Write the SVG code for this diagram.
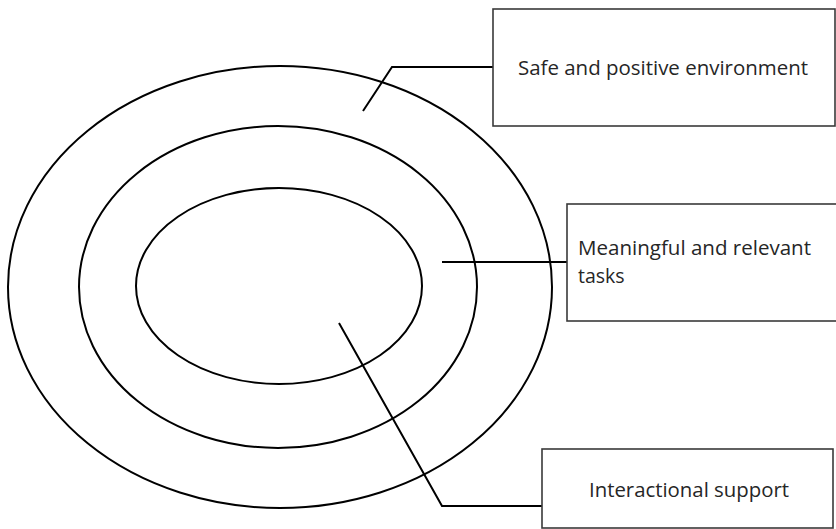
<svg xmlns="http://www.w3.org/2000/svg" width="836" height="529" viewBox="0 0 836 529">
<style>
.ring{fill:none;stroke:#000;stroke-width:2}
.box{fill:#fff;stroke:#3a3a3a;stroke-width:1.6}
.lead{fill:none;stroke:#000;stroke-width:2}
.lbl{font-family:"Open Sans","Noto Sans",sans-serif;font-size:19.5px;fill:#262626}
</style>
<rect width="836" height="529" fill="#fff"/>
<g id="rings">
<ellipse id="outer" class="ring" cx="280" cy="287" rx="272" ry="221"/>
<ellipse id="middle" class="ring" cx="278" cy="287" rx="199" ry="161"/>
<ellipse id="inner" class="ring" cx="279" cy="286" rx="143" ry="98"/>
</g>
<g id="connectors">
<polyline class="lead" points="493,67 392,67 363,111"/>
<polyline class="lead" points="442,262 567,262"/>
<polyline class="lead" points="542,506 442,506 339,323"/>
</g>
<g id="box-safe">
<rect class="box" x="493" y="9" width="342" height="117"/>
<text class="lbl" x="518" y="75" textLength="290" lengthAdjust="spacingAndGlyphs">Safe and positive environment</text>
</g>
<g id="box-meaningful">
<rect class="box" x="567" y="204" width="280" height="117"/>
<text class="lbl" x="578" y="255" textLength="233" lengthAdjust="spacingAndGlyphs">Meaningful and relevant</text>
<text class="lbl" x="578" y="283">tasks</text>
</g>
<g id="box-interactional">
<rect class="box" x="542" y="449" width="291" height="79"/>
<text class="lbl" x="589" y="497" textLength="200" lengthAdjust="spacingAndGlyphs">Interactional support</text>
</g>
</svg>
